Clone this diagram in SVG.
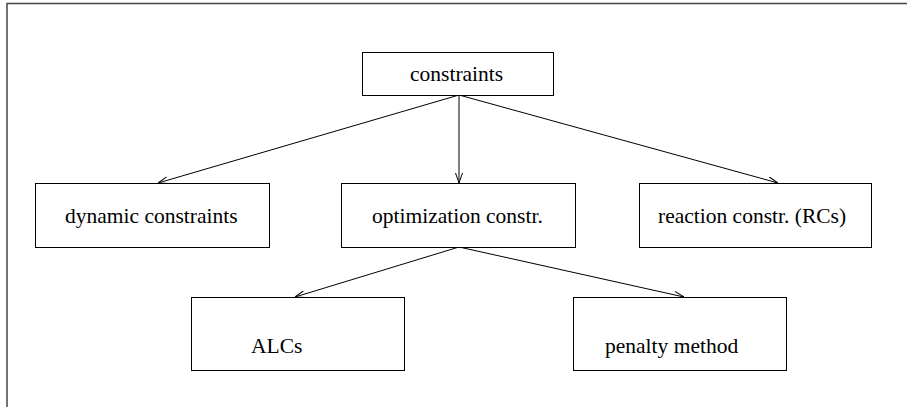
<svg xmlns="http://www.w3.org/2000/svg" width="907" height="407" viewBox="0 0 907 407">
<defs>
<marker id="ah" viewBox="0 0 10 8" refX="10" refY="4" markerWidth="10" markerHeight="8" markerUnits="userSpaceOnUse" orient="auto">
<path d="M0,0.5 L10,4 L0,7.5" fill="none" stroke="#000" stroke-width="1"/>
</marker>
</defs>
<style>
.box{fill:#fff;stroke:#000;stroke-width:1}
.lbl{font-family:"Liberation Serif","Times New Roman",serif;font-size:21.5px;fill:#000}
.con{stroke:#000;stroke-width:1;fill:none;marker-end:url(#ah)}
.frame{stroke:#444;stroke-width:1.5;fill:none}
</style>
<rect width="907" height="407" fill="#fff"/>
<path class="frame" d="M7,407 L7,3.5 L907,3.5"/>
<g id="connectors">
<line class="con" x1="459" y1="95" x2="158" y2="183"/>
<line class="con" x1="459" y1="95" x2="459" y2="183"/>
<line class="con" x1="459" y1="95" x2="778" y2="183"/>
<line class="con" x1="459" y1="247" x2="295" y2="297"/>
<line class="con" x1="459" y1="247" x2="684" y2="297"/>
</g>
<g id="n-constraints">
<rect class="box" x="362.5" y="52.5" width="191" height="43"/>
<text class="lbl" x="410" y="81">constraints</text>
</g>
<g id="n-dynamic">
<rect class="box" x="35.5" y="183.5" width="234" height="64"/>
<text class="lbl" x="65" y="223">dynamic constraints</text>
</g>
<g id="n-optimization">
<rect class="box" x="341.5" y="183.5" width="234" height="64"/>
<text class="lbl" x="372" y="223">optimization constr.</text>
</g>
<g id="n-reaction">
<rect class="box" x="639.5" y="183.5" width="232" height="64"/>
<text class="lbl" x="658" y="223">reaction constr. (RCs)</text>
</g>
<g id="n-alcs">
<rect class="box" x="191.5" y="297.5" width="213" height="73"/>
<text class="lbl" x="251" y="353">ALCs</text>
</g>
<g id="n-penalty">
<rect class="box" x="573.5" y="297.5" width="213" height="73"/>
<text class="lbl" x="605" y="353">penalty method</text>
</g>
</svg>
